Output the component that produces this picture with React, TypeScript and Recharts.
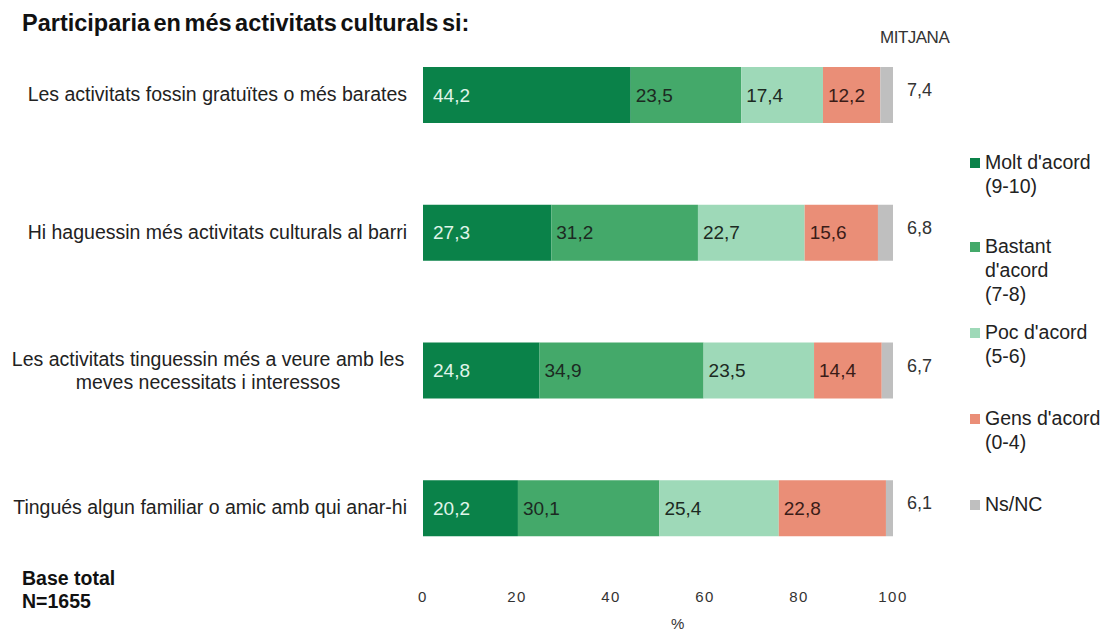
import { Bar, BarChart, LabelList, XAxis, YAxis } from "recharts";

// Dades llegides del gràfic (percentatges per fila).
const categories = [
  "Les activitats fossin gratuïtes o més barates",
  "Hi haguessin més activitats culturals al barri",
  "Les activitats tinguessin més a veure amb les\nmeves necessitats i interessos",
  "Tingués algun familiar o amic amb qui anar-hi",
];
const moltAcord = [44.2, 27.3, 24.8, 20.2];
const bastantAcord = [23.5, 31.2, 34.9, 30.1];
const pocAcord = [17.4, 22.7, 23.5, 25.4];
const gensAcord = [12.2, 15.6, 14.4, 22.8];
const nsnc = [2.7, 3.2, 2.4, 1.5];
const mitjana = [7.4, 6.8, 6.7, 6.1];
const xTicks = [0, 20, 40, 60, 80, 100];

const seriesKeys = ["molt", "bastant", "poc", "gens", "nsnc"];
const seriesNames = [
  ["Molt d'acord", "(9-10)"],
  ["Bastant", "d'acord", "(7-8)"],
  ["Poc d'acord", "(5-6)"],
  ["Gens d'acord", "(0-4)"],
  ["Ns/NC"],
];
const seriesColors = ["#0a8249", "#44a96a", "#9ed9b8", "#ea8e77", "#bfbfbf"];
const labelColors = ["#e0f5ea", "#1c2a22", "#1c2a22", "#3a1c18", "#333"];

const data = categories.map((name, i) => ({
  name,
  molt: moltAcord[i],
  bastant: bastantAcord[i],
  poc: pocAcord[i],
  gens: gensAcord[i],
  nsnc: nsnc[i],
  mitjana: mitjana[i],
}));

const FONT = "'Liberation Sans', Arial, sans-serif";
const fmt = (v: number) => v.toFixed(1).replace(".", ",");

// espai abans de cada element de la llegenda (px)
const legendGaps = [150, 36, 14, 38, 38];

function CategoryTick(props: any) {
  const { x, y, payload } = props;
  const lines = String(payload.value).split("\n");
  if (lines.length === 1) {
    return (
      <text x={x} y={y} dy={6} textAnchor="end" fontSize={19.5} fill="#222" fontFamily={FONT}>
        {lines[0]}
      </text>
    );
  }
  return (
    <text x={x - 199} y={y} textAnchor="middle" fontSize={19.5} fill="#222" fontFamily={FONT}>
      {lines.map((l, i) => (
        <tspan key={i} x={x - 199} dy={i === 0 ? -4 : 23}>
          {l}
        </tspan>
      ))}
    </text>
  );
}

function PercentTick(props: any) {
  const { x, y, payload } = props;
  return (
    <text
      x={x}
      y={y}
      dy={25}
      textAnchor="middle"
      fontSize={15}
      letterSpacing={1.5}
      fill="#333"
      fontFamily={FONT}
    >
      {payload.value}
    </text>
  );
}

function MeanLabel(props: any) {
  const { x, y, width, height, value } = props;
  return (
    <text x={x + width + 14} y={y + height / 2} dy={1} fontSize={18} fill="#333" fontFamily={FONT}>
      {fmt(Number(value))}
    </text>
  );
}

function LegendBox() {
  return (
    <div
      style={{
        position: "absolute",
        left: 968,
        top: 0,
        fontFamily: FONT,
        fontSize: 19.5,
        color: "#222",
        lineHeight: "24px",
      }}
    >
      {seriesNames.map((lines, i) => (
        <div key={i} style={{ position: "relative", marginTop: legendGaps[i], paddingLeft: 17 }}>
          <span
            style={{
              position: "absolute",
              left: 2,
              top: 8,
              width: 10,
              height: 10,
              background: seriesColors[i],
            }}
          />
          {lines.map((l, j) => (
            <div key={j}>{l}</div>
          ))}
        </div>
      ))}
    </div>
  );
}

export default function App() {
  return (
    <div style={{ position: "absolute", left: 0, top: 0, width: 1102, height: 636, background: "#fff", fontFamily: FONT }}>
      <div style={{ position: "absolute", left: 22, top: 10, fontSize: 23.5, fontWeight: "bold", color: "#111", wordSpacing: -3 }}>
        Participaria en més activitats culturals si:
      </div>
      <div style={{ position: "absolute", left: 880, top: 28, fontSize: 17, color: "#333", letterSpacing: -0.5 }}>
        MITJANA
      </div>
      <div style={{ position: "absolute", left: 22, top: 567, fontSize: 19.5, fontWeight: "bold", color: "#111", lineHeight: "23px" }}>
        <div>Base total</div>
        <div>N=1655</div>
      </div>
      <div style={{ position: "absolute", left: 671, top: 615, fontSize: 15, color: "#333" }}>%</div>
      <LegendBox />
      <BarChart
        width={1102}
        height={636}
        data={data}
        layout="vertical"
        margin={{ top: 26, right: 209, bottom: 29, left: 0 }}
      >
        <XAxis
          type="number"
          domain={[0, 100]}
          ticks={xTicks}
          axisLine={false}
          tickLine={false}
          tickSize={0}
          tickMargin={0}
          height={30}
          tick={<PercentTick />}
        />
        <YAxis
          type="category"
          dataKey="name"
          width={423}
          axisLine={false}
          tickLine={false}
          tickSize={0}
          tickMargin={16}
          tick={<CategoryTick />}
        />
        {seriesKeys.map((key, i) => (
          <Bar
            key={key}
            dataKey={key}
            stackId="a"
            fill={seriesColors[i]}
            barSize={56}
            isAnimationActive={false}
          >
            {i < 4 && (
              <LabelList
                dataKey={key}
                position="insideLeft"
                offset={i === 0 ? 10 : 5}
                formatter={(v: any) => fmt(Number(v))}
                fill={labelColors[i]}
                fontSize={19}
                fontFamily={FONT}
              />
            )}
            {i === 4 && <LabelList dataKey="mitjana" content={<MeanLabel />} />}
          </Bar>
        ))}
      </BarChart>
    </div>
  );
}
